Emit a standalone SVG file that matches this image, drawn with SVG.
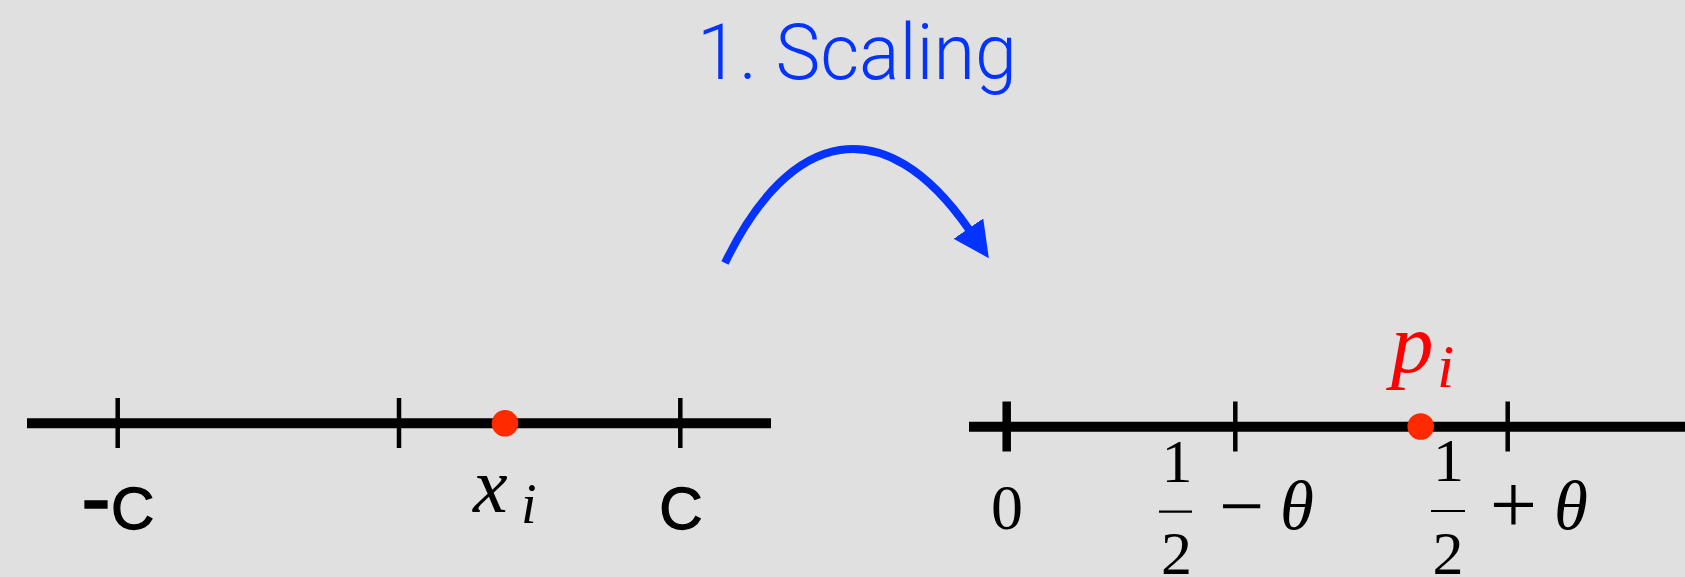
<svg xmlns="http://www.w3.org/2000/svg" width="1685" height="577" viewBox="0 0 1685 577">
<style>
.axis{stroke:#000;stroke-width:10;fill:none}
.tick{stroke:#000;stroke-width:4.5}
.tickb{stroke:#000;stroke-width:8.5}
.dot{fill:#ff2a00}
.sans{font-family:"Liberation Sans",Arial,sans-serif;fill:#000;stroke:#000;stroke-width:1.3}
.math{font-family:"Liberation Serif","Times New Roman",serif;fill:#000}
.it{font-style:italic}
.bar{stroke:#000;stroke-width:2.2}
.title{font-family:Roboto,Inter,"Liberation Sans",sans-serif;font-weight:300;fill:#0433ff}
.conn{stroke:#0433ff;stroke-width:8;fill:none}
</style>
<defs>
<marker id="ah" markerUnits="userSpaceOnUse" markerWidth="36" markerHeight="36" viewBox="0 0 34 34" refX="1" refY="17" orient="auto">
<path d="M0,0 L34,17 L0,34 z" fill="#0433ff"/>
</marker>
</defs>
<rect width="1685" height="577" fill="#e0e0e0"/>
<g id="title">
<text class="title" x="697" y="79" font-size="78" textLength="320" lengthAdjust="spacingAndGlyphs">1. Scaling</text>
</g>
<g id="connectors">
<path class="conn" d="M725,263 C790,128 885,108 969,229.5" marker-end="url(#ah)"/>
</g>
<g id="left-axis">
<line class="axis" x1="27" y1="423.3" x2="771" y2="423.3"/>
<line class="tick" x1="117.7" y1="398" x2="117.7" y2="448"/>
<line class="tick" x1="399" y1="398" x2="399" y2="448"/>
<line class="tick" x1="680.3" y1="398" x2="680.3" y2="448"/>
<circle class="dot" cx="505" cy="423.3" r="13.3"/>
<text class="sans" x="81" y="529" font-size="90">-<tspan x="111" font-size="60">C</tspan></text>
<text class="sans" x="681" y="529" font-size="60" text-anchor="middle">C</text>
<text class="math it" x="473" y="512" font-size="78">x<tspan x="521" y="523" font-size="56">i</tspan></text>
</g>
<g id="right-axis">
<line class="axis" x1="969" y1="426.7" x2="1685" y2="426.7"/>
<line class="tickb" x1="1006.7" y1="401.5" x2="1006.7" y2="451.5"/>
<line class="tick" x1="1235.3" y1="401.5" x2="1235.3" y2="451.5"/>
<line class="tick" x1="1507.7" y1="401.5" x2="1507.7" y2="451.5"/>
<circle class="dot" cx="1420.7" cy="426.5" r="13.3"/>
<text class="math it" x="1391" y="372" font-size="85" style="fill:#ff0000">p<tspan x="1437" y="387" font-size="62">i</tspan></text>
<text class="math" x="1007" y="529" font-size="64" text-anchor="middle">0</text>
<text class="math" x="1177" y="481.5" font-size="62" text-anchor="middle">1</text>
<line class="bar" x1="1159" y1="511.7" x2="1192" y2="511.7"/>
<text class="math" x="1176.5" y="574" font-size="62" text-anchor="middle">2</text>
<text class="math" x="1241.5" y="532.5" font-size="80" text-anchor="middle">−</text>
<text class="math it" x="1297" y="528.5" font-size="69" text-anchor="middle">θ</text>
<text class="math" x="1448.5" y="480.5" font-size="62" text-anchor="middle">1</text>
<line class="bar" x1="1431" y1="511" x2="1465" y2="511"/>
<text class="math" x="1448" y="574" font-size="62" text-anchor="middle">2</text>
<text class="math" x="1513.5" y="532.5" font-size="84" text-anchor="middle">+</text>
<text class="math it" x="1571" y="528.5" font-size="69" text-anchor="middle">θ</text>
</g>
</svg>
